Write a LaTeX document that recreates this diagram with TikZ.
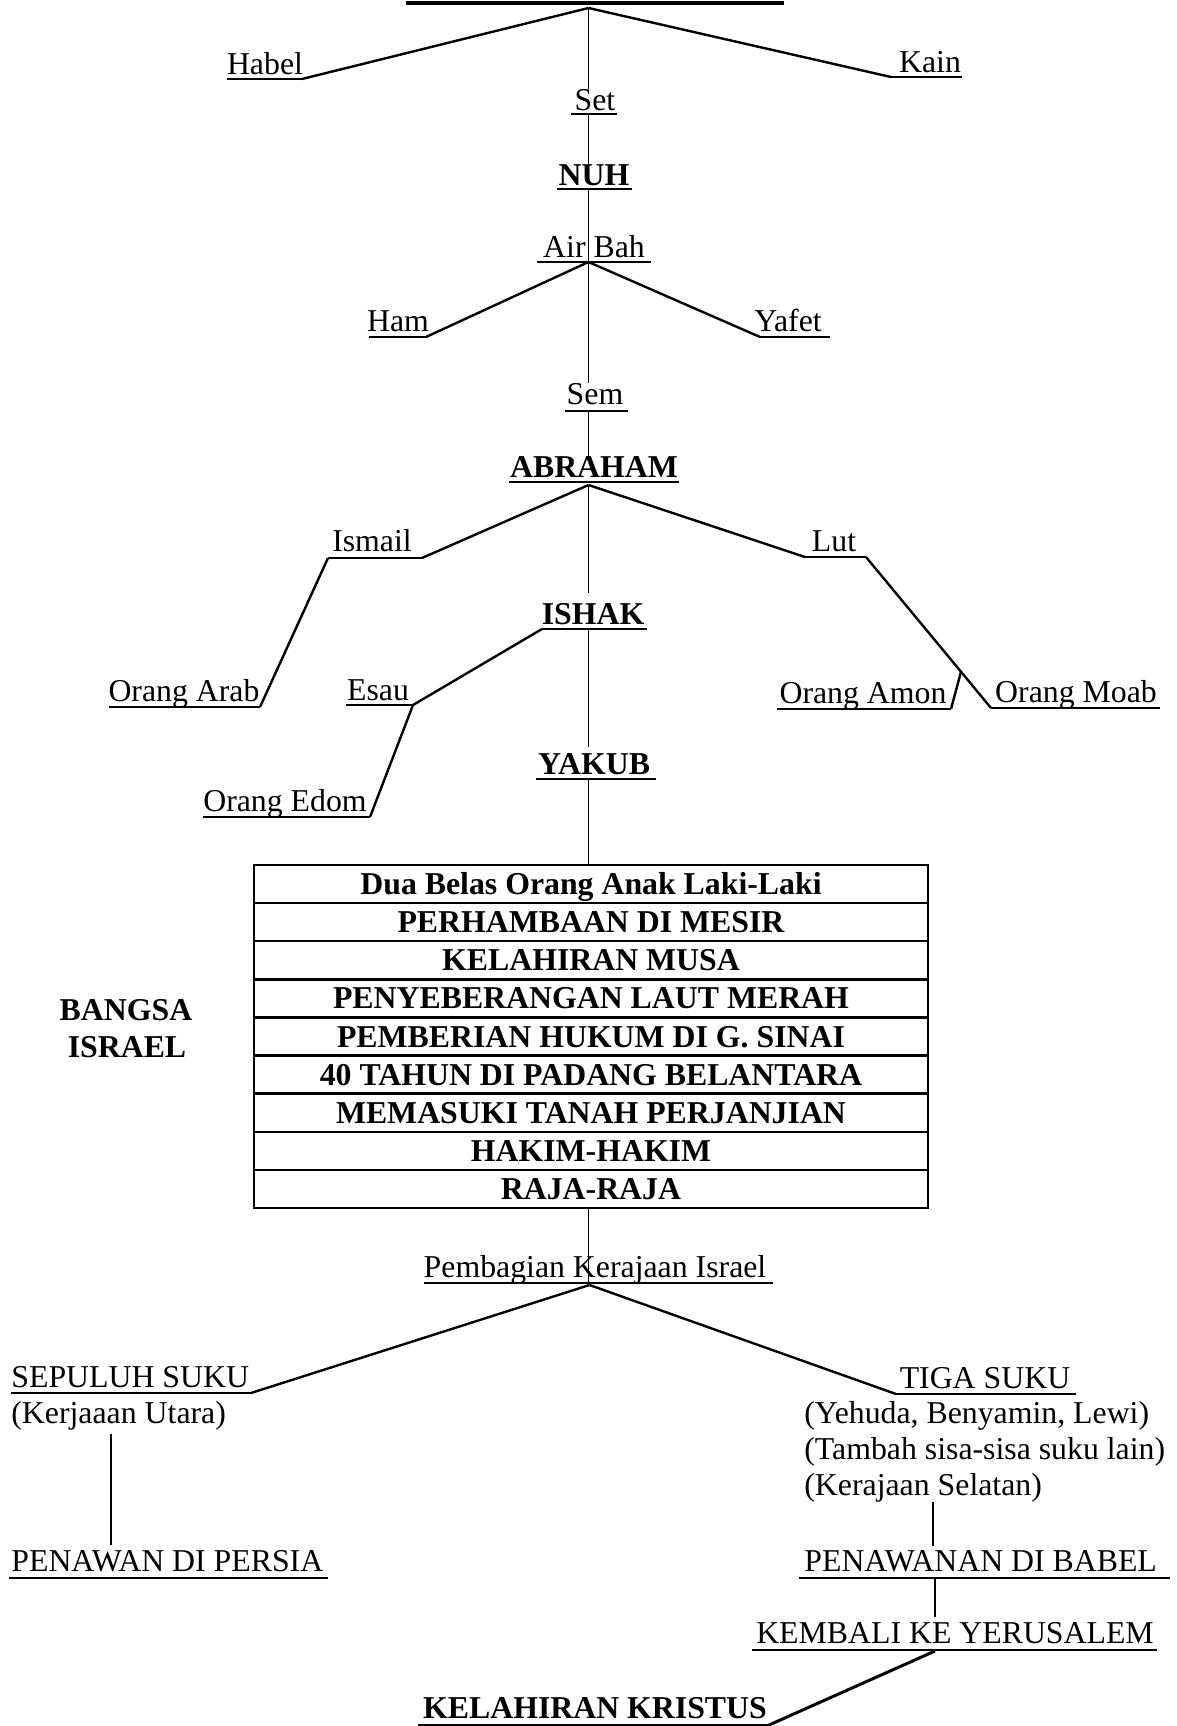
\documentclass[tikz,border=0pt]{standalone}
\usepackage{fontspec}
\setmainfont{Liberation Serif}
\usetikzlibrary{calc}
\newcommand{\mkul}[8]{%
  \node[#2] (#1) at (#3,#4) {#8};
  \coordinate (#1L) at (#5,#7);
  \coordinate (#1R) at (#6,#7);
  \draw[ul] (#1L) -- (#1R);}
\begin{document}
\begin{tikzpicture}[x=0.5pt,y=-0.5pt,
  lbl/.style={anchor=base,inner sep=0pt,font=\fontsize{15.9}{19}\selectfont},
  lblb/.style={lbl,font=\fontsize{15.9}{19}\selectfont\bfseries},
  ul/.style={line width=1pt},
  br/.style={line width=1.2pt},
  vl/.style={line width=0.8pt},
  rowbox/.style={draw,line width=1.2pt,minimum width=337pt,minimum height=19.06pt,
    inner sep=0pt,text height=10.5pt,text depth=0pt,
    font=\fontsize{15.9}{19}\selectfont\bfseries}]
\useasboundingbox (0,0) rectangle (1177,1726);

% top line
\coordinate (topL) at (406,3);
\coordinate (topR) at (784,3);
\draw[line width=1.6pt] (topL) -- (topR);
\coordinate (apex) at (588.5,8);

% labels with underlines
\mkul{habel}{lbl}{265}{74}{227}{302}{79}{Habel}
\mkul{kain}{lbl}{930}{72}{891}{962}{77}{Kain}
\mkul{set}{lbl}{595}{110}{571}{617}{114}{Set}
\mkul{nuh}{lblb}{594}{185}{557}{632}{189}{NUH}
\mkul{airbah}{lbl}{594}{257}{537}{651}{262}{Air Bah}
\mkul{ham}{lbl}{398}{331}{369}{426}{337}{Ham}
\mkul{yafet}{lbl}{788}{331}{760}{830}{337}{Yafet}
\mkul{sem}{lbl}{595}{404}{565}{628}{411}{Sem}
\mkul{abraham}{lblb}{594}{477}{509}{679}{482}{ABRAHAM}
\mkul{ismail}{lbl}{372}{551}{328}{422}{558}{Ismail}
\mkul{lut}{lbl}{834}{551}{805}{866}{557}{Lut}
\mkul{ishak}{lblb}{593}{624}{542}{647}{629}{ISHAK}
\mkul{arab}{lbl}{184}{701}{109}{260}{707}{Orang Arab}
\mkul{esau}{lbl}{378}{700}{346}{413}{705}{Esau}
\mkul{amon}{lbl}{863}{703}{777}{951}{709}{Orang Amon}
\mkul{moab}{lbl}{1076}{702}{991}{1160}{708}{Orang Moab}
\mkul{yakub}{lblb}{594}{774}{536}{656}{779}{YAKUB}
\mkul{edom}{lbl}{285}{811}{203}{370}{817}{Orang Edom}
\mkul{pemb}{lbl}{595}{1277}{424}{773}{1283}{Pembagian Kerajaan Israel}
\mkul{sepuluh}{lbl,anchor=base west}{11}{1387}{11}{251}{1393}{SEPULUH SUKU}
\mkul{tiga}{lbl}{985}{1388}{896}{1076}{1394}{TIGA SUKU}
\node[lbl,anchor=base west] (utara) at (11,1423) {(Kerjaaan Utara)};
\node[lbl,anchor=base west] (yehuda) at (804,1423) {(Yehuda, Benyamin, Lewi)};
\node[lbl,anchor=base west] (tambah) at (804,1459) {(Tambah sisa-sisa suku lain)};
\node[lbl,anchor=base west] (selatan) at (804,1495) {(Kerajaan Selatan)};
\mkul{persia}{lbl,anchor=base west}{11}{1571}{9}{328}{1578}{PENAWAN DI PERSIA}
\mkul{babel}{lbl,anchor=base west}{804}{1571}{799}{1170}{1578}{PENAWANAN DI BABEL}
\mkul{kembali}{lbl}{955}{1643}{752}{1157}{1650}{KEMBALI KE YERUSALEM}
\mkul{kristus}{lblb}{595}{1718}{418}{769}{1725}{KELAHIRAN KRISTUS}

\node[lblb] (bangsa) at (126,1020) {BANGSA};
\node[lblb] (israel) at (127,1057) {ISRAEL};

% box rows
\foreach \t [count=\i] in {{Dua Belas Orang Anak Laki-Laki},{PERHAMBAAN DI MESIR},
  {KELAHIRAN MUSA},{PENYEBERANGAN LAUT MERAH},{PEMBERIAN HUKUM DI G. SINAI},
  {40 TAHUN DI PADANG BELANTARA},{MEMASUKI TANAH PERJANJIAN},{HAKIM-HAKIM},{RAJA-RAJA}}
  \node[rowbox] (r\i) at (591,{865+(\i-0.5)*38.11}) {\t};

% connectors
\draw[br] (apex) -- (habelR);
\draw[br] (apex) -- (kainL);
\draw[vl] (apex) -- (apex |- set.north);
\draw[vl] (apex |- setL) -- (apex |- nuh.north);
\draw[vl] (apex |- nuhL) -- (apex |- airbahL);
\coordinate (flood) at (apex |- airbahL);
\draw[br] (flood) -- (hamR);
\draw[br] (flood) -- (yafetL);
\draw[vl] (flood) -- (apex |- sem.north);
\draw[vl] (apex |- semL) -- (apex |- abraham.north);
\coordinate (abr) at ($(apex |- abrahamL)+(0,3)$);
\draw[br] (abr) -- (ismailR);
\draw[br] (abr) -- (lutL);
\draw[vl] (abr) -- ($(apex |- ishak.north)+(0,-10)$);
\draw[br] (ismailL) -- (arabR);
\draw[br] (ishakL) -- (esauR);
\draw[br] (esauR) -- (edomR);
\draw[br] (lutR) -- (moabL);
\draw[br] (amonR) -- ($(lutR)!0.76!(moabL)$);
\draw[vl] (apex |- ishakL) -- ($(apex |- yakub.north)+(0,-6)$);
\draw[vl] (apex |- yakubL) -- (apex |- r1.north);
\draw[vl] (apex |- r9.south) -- (apex |- pembL);
\coordinate (div) at ($(apex |- pembL)+(1,2)$);
\draw[br] (div) -- (sepuluhR);
\draw[br] (div) -- (tigaL);
\coordinate (nA) at (111,1434);
\coordinate (nB) at (111,1545);
\draw[vl] (nA) -- (nB);
\coordinate (sA) at (933,1502);
\coordinate (sB) at (933,1546);
\draw[vl] (sA) -- (sB);
\coordinate (bA) at (935,1578);
\coordinate (bB) at (935,1617);
\draw[vl] (bA) -- (bB);
\coordinate (kA) at (935,1651);
\draw[line width=1.5pt] (kA) -- (kristusR);
\end{tikzpicture}
\end{document}
